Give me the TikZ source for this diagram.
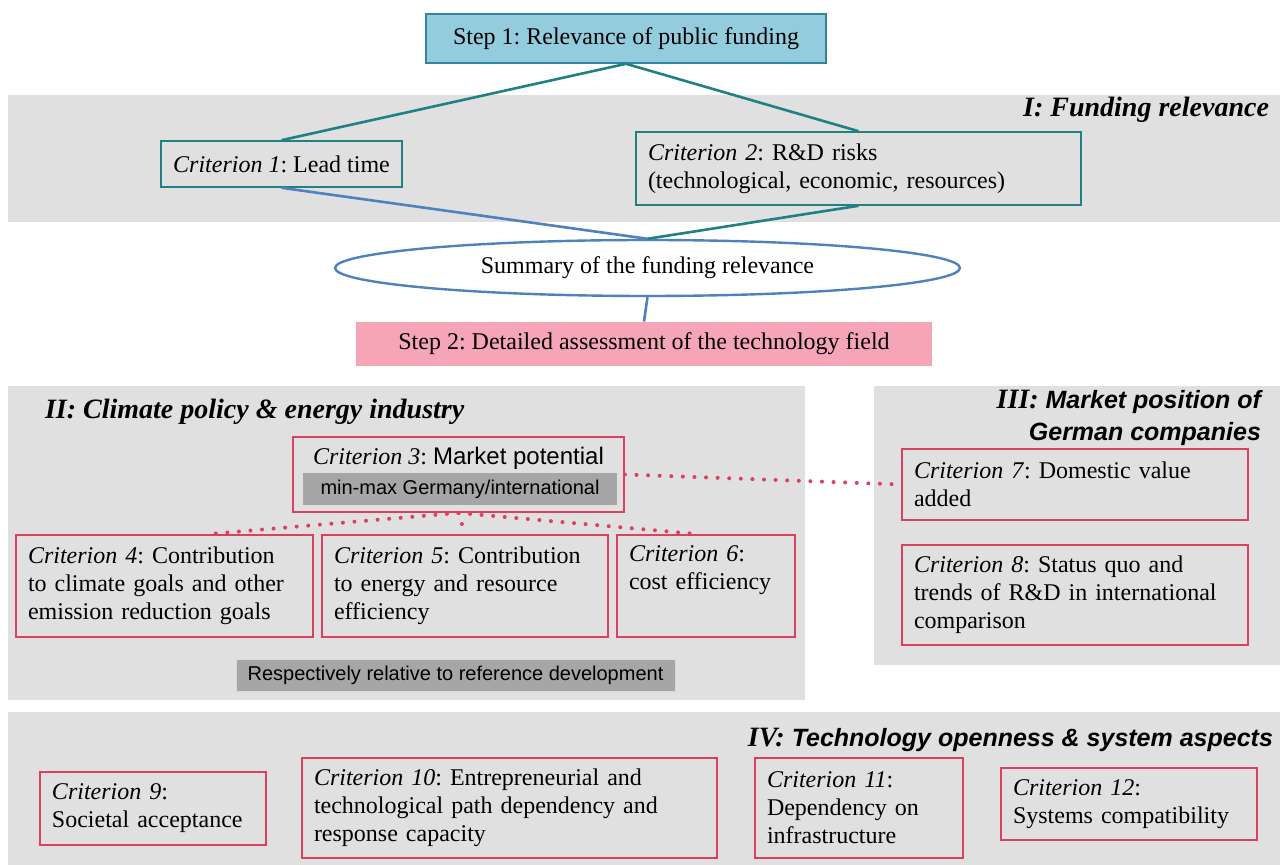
\documentclass[tikz,border=0pt]{standalone}
\usepackage{fontspec}
\setmainfont{Liberation Serif}
\setsansfont{Liberation Sans}
\usepackage{xcolor}
\usetikzlibrary{shapes.geometric}
\definecolor{panelgray}{RGB}{224,224,225}
\definecolor{stepblue}{RGB}{146,204,221}
\definecolor{steprim}{RGB}{49,133,156}
\definecolor{tealline}{RGB}{32,128,130}
\definecolor{blueline}{RGB}{79,129,189}
\definecolor{steppink}{RGB}{245,165,182}
\definecolor{critred}{RGB}{217,65,94}
\definecolor{minmaxgray}{RGB}{166,166,166}
\frenchspacing
\hyphenpenalty=10000
\newcommand\crit[1]{\textit{Criterion #1}}
\newcommand\body{\fontsize{12}{14}\selectfont}
\newcommand\ttl{\fontsize{14}{16}\selectfont\bfseries\itshape}
\newcommand\ttlsf{\sffamily\fontsize{12.5}{15}\selectfont}
\tikzset{
  panel/.style={fill=panelgray},
  tealbox/.style={draw=tealline,line width=.8pt,inner xsep=6pt,font=\body},
  redbox/.style={draw=critred,line width=.9pt,inner xsep=6pt,align=left,font=\body},
  greybox/.style={fill=minmaxgray,font=\sffamily\fontsize{10}{12}\selectfont},
  tl/.style={tealline,line width=1.3pt},
  bl/.style={blueline,line width=1.3pt},
  dots/.style={critred,line width=2pt,line cap=round,dash pattern=on 0pt off 5.8pt},
}
\begin{document}
\begin{tikzpicture}[x=.5pt,y=-.5pt]
	\useasboundingbox (0,0) rectangle (1287,865);
	% panels
	\fill[panel] (8,95) rectangle (1280,222);
	\fill[panel] (8,386) rectangle (805,700);
	\fill[panel] (874,386) rectangle (1280,665);
	\fill[panel] (8,712) rectangle (1280,865);
	\node[anchor=east,font=\ttl] (t1) at (1276,110) {I: Funding relevance};
	\node[anchor=west,font=\ttl] (t2) at (38,412) {II: Climate policy \& energy industry};
	\node[anchor=east,align=right,font=\ttl] (t3) at (1268,418)
		{III: \ttlsf Market position of\\\ttlsf German companies};
	\node[anchor=east,font=\ttl] (t4) at (1280,740) {IV: \ttlsf Technology openness \& system aspects};
	% step 1
	\node[draw=steprim,fill=stepblue,line width=.8pt,font=\body,
		minimum width=200pt,minimum height=24.5pt] (s1) at (626,38.5) {Step 1: Relevance of public funding};
	\node[tealbox,minimum width=101.5pt,minimum height=23pt] (c1) at (281.5,164) {\crit{1}: Lead time};
	\node[tealbox,align=left,text width=210.5pt,minimum height=36.5pt] (c2) at (858.5,168.5)
		{\crit{2}: R\&D risks\\(technological, economic, resources)};
	\node[ellipse,draw=blueline,line width=1.2pt,fill=white,font=\body,
		minimum width=312.5pt,minimum height=28pt] (sum) at (647.5,268) {Summary of the funding relevance};
	\node[fill=steppink,font=\body,minimum width=288pt,minimum height=22pt] (s2) at (644,344)
		{Step 2: Detailed assessment of the technology field};
	\draw[tl] (s1.south) -- (c1.north);
	\draw[tl] (s1.south) -- (c2.north);
	\draw[bl] (c1.south) -- (sum.north);
	\draw[tl] (c2.south) -- (sum.north);
	\draw[bl] (sum.south) -- (s2.north);
	% block II
	\node[redbox,minimum width=165.5pt,minimum height=37.5pt] (c3) at (458.5,474.5) {};
	\node[font=\body] (c3t) at (458.5,458) {\crit{3}: \sffamily Market potential};
	\node[greybox,minimum width=157pt,minimum height=16pt] (mm) at (460,489) {min-max Germany/international};
	\node[redbox,text width=136.5pt,minimum height=51pt] (c4) at (164.5,586)
		{\crit{4}: Contribution\\to climate goals and other\\emission reduction goals};
	\node[redbox,text width=131pt,minimum height=51pt] (c5) at (465,586)
		{\crit{5}: Contribution\\to energy and resource\\efficiency};
	\node[redbox,text width=77pt,minimum height=51pt] (c6) at (706,586)
		{\crit{6}:\\cost efficiency\\\strut};
	\node[greybox,draw=white!85!black,minimum width=219.5pt,minimum height=15pt] (resp) at (455.5,675)
		{Respectively relative to reference development};
	\draw[dots] (c3.south) -- ([xshift=22pt]c4.north);
	\draw[dots] (c3.south) -- (c5.north);
	\draw[dots] (c3.south) -- ([xshift=-4pt]c6.north);
	% block III
	\node[redbox,text width=161pt,minimum height=35.5pt] (c7) at (1075,484.5)
		{\crit{7}: Domestic value\\added};
	\node[redbox,text width=161pt,minimum height=50pt] (c8) at (1075,595)
		{\crit{8}: Status quo and\\trends of R\&D in international\\comparison};
	\draw[dots] (c3.east) -- (c7.west);
	% block IV
	\node[redbox,text width=101pt,minimum height=36.5pt] (c9) at (153,808.5)
		{\crit{9}:\\Societal acceptance};
	\node[redbox,text width=195.5pt,minimum height=50pt] (c10) at (509.5,808)
		{\crit{10}: Entrepreneurial and\\technological path dependency and\\response capacity};
	\node[redbox,text width=92pt,minimum height=50pt] (c11) at (859,808)
		{\crit{11}:\\Dependency on\\infrastructure};
	\node[redbox,text width=116pt,minimum height=36pt] (c12) at (1129,804)
		{\crit{12}:\\Systems compatibility};
\end{tikzpicture}
\end{document}
